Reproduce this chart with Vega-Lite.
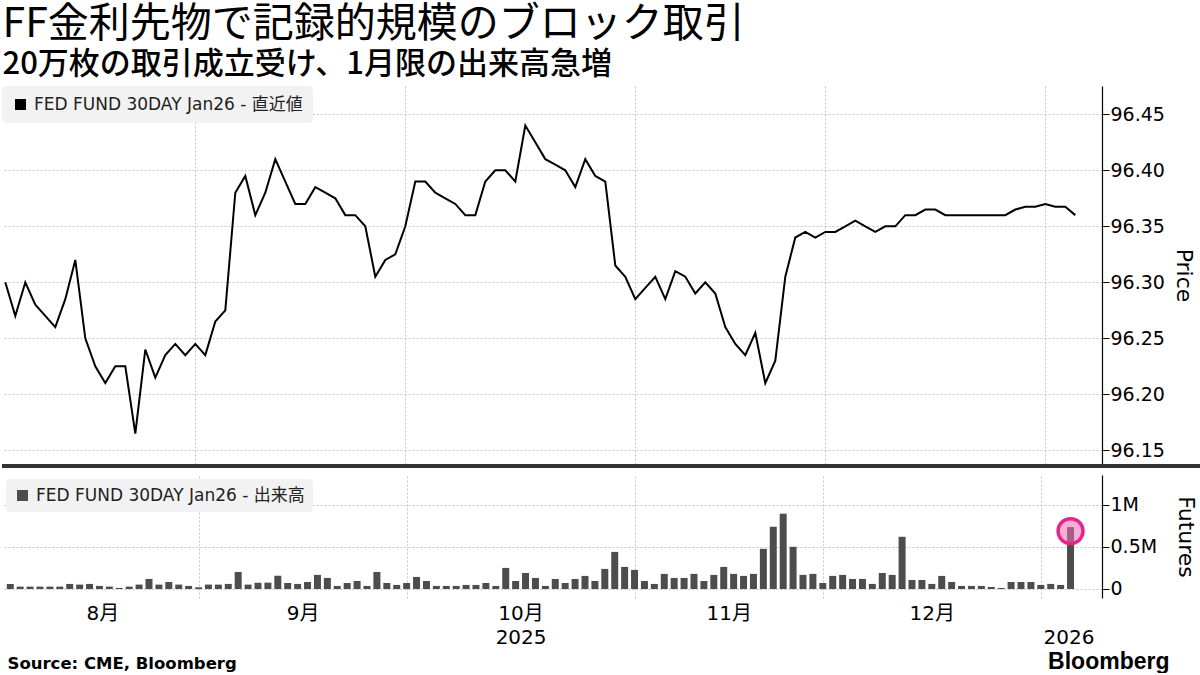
{
  "$schema": "https://vega.github.io/schema/vega-lite/v6.json",
  "padding": {"left": 0, "top": 4, "right": 0, "bottom": 0},
  "background": "white",
  "title": {
    "text": "FF金利先物で記録的規模のブロック取引",
    "subtitle": "20万枚の取引成立受け、1月限の出来高急増",
    "anchor": "start",
    "font": "Noto Sans CJK JP",
    "fontSize": 41,
    "fontWeight": "normal",
    "color": "#000",
    "subtitleFont": "Noto Sans CJK JP",
    "subtitleFontSize": 31,
    "subtitleFontWeight": 500,
    "subtitleColor": "#000",
    "subtitlePadding": 4,
    "offset": 5,
    "dx": 2
  },
  "datasets": {
    "d": [
      {"date": "2025-08-05", "i": 1, "p": 96.300, "v": 60000},
      {"date": "2025-08-06", "i": 2, "p": 96.270, "v": 28000},
      {"date": "2025-08-07", "i": 3, "p": 96.300, "v": 28000},
      {"date": "2025-08-08", "i": 4, "p": 96.280, "v": 28000},
      {"date": "2025-08-11", "i": 5, "p": 96.270, "v": 28000},
      {"date": "2025-08-12", "i": 6, "p": 96.260, "v": 28000},
      {"date": "2025-08-13", "i": 7, "p": 96.285, "v": 60000},
      {"date": "2025-08-14", "i": 8, "p": 96.320, "v": 52000},
      {"date": "2025-08-15", "i": 9, "p": 96.250, "v": 60000},
      {"date": "2025-08-18", "i": 10, "p": 96.225, "v": 36000},
      {"date": "2025-08-19", "i": 11, "p": 96.210, "v": 28000},
      {"date": "2025-08-20", "i": 12, "p": 96.225, "v": 12000},
      {"date": "2025-08-21", "i": 13, "p": 96.225, "v": 28000},
      {"date": "2025-08-22", "i": 14, "p": 96.165, "v": 52000},
      {"date": "2025-08-25", "i": 15, "p": 96.240, "v": 119000},
      {"date": "2025-08-26", "i": 16, "p": 96.215, "v": 52000},
      {"date": "2025-08-27", "i": 17, "p": 96.235, "v": 83000},
      {"date": "2025-08-28", "i": 18, "p": 96.245, "v": 52000},
      {"date": "2025-08-29", "i": 19, "p": 96.235, "v": 36000},
      {"date": "2025-09-02", "i": 20, "p": 96.245, "v": 20000},
      {"date": "2025-09-03", "i": 21, "p": 96.235, "v": 52000},
      {"date": "2025-09-04", "i": 22, "p": 96.265, "v": 52000},
      {"date": "2025-09-05", "i": 23, "p": 96.275, "v": 60000},
      {"date": "2025-09-08", "i": 24, "p": 96.380, "v": 202000},
      {"date": "2025-09-09", "i": 25, "p": 96.395, "v": 52000},
      {"date": "2025-09-10", "i": 26, "p": 96.360, "v": 75000},
      {"date": "2025-09-11", "i": 27, "p": 96.380, "v": 75000},
      {"date": "2025-09-12", "i": 28, "p": 96.410, "v": 157000},
      {"date": "2025-09-15", "i": 29, "p": 96.390, "v": 71000},
      {"date": "2025-09-16", "i": 30, "p": 96.370, "v": 60000},
      {"date": "2025-09-17", "i": 31, "p": 96.370, "v": 83000},
      {"date": "2025-09-18", "i": 32, "p": 96.385, "v": 167000},
      {"date": "2025-09-19", "i": 33, "p": 96.380, "v": 131000},
      {"date": "2025-09-22", "i": 34, "p": 96.375, "v": 36000},
      {"date": "2025-09-23", "i": 35, "p": 96.360, "v": 71000},
      {"date": "2025-09-24", "i": 36, "p": 96.360, "v": 95000},
      {"date": "2025-09-25", "i": 37, "p": 96.350, "v": 36000},
      {"date": "2025-09-26", "i": 38, "p": 96.305, "v": 202000},
      {"date": "2025-09-29", "i": 39, "p": 96.320, "v": 71000},
      {"date": "2025-09-30", "i": 40, "p": 96.325, "v": 48000},
      {"date": "2025-10-01", "i": 41, "p": 96.350, "v": 71000},
      {"date": "2025-10-02", "i": 42, "p": 96.390, "v": 143000},
      {"date": "2025-10-03", "i": 43, "p": 96.390, "v": 95000},
      {"date": "2025-10-06", "i": 44, "p": 96.380, "v": 36000},
      {"date": "2025-10-07", "i": 45, "p": 96.375, "v": 36000},
      {"date": "2025-10-08", "i": 46, "p": 96.370, "v": 36000},
      {"date": "2025-10-09", "i": 47, "p": 96.360, "v": 48000},
      {"date": "2025-10-10", "i": 48, "p": 96.360, "v": 48000},
      {"date": "2025-10-13", "i": 49, "p": 96.390, "v": 71000},
      {"date": "2025-10-14", "i": 50, "p": 96.400, "v": 36000},
      {"date": "2025-10-15", "i": 51, "p": 96.400, "v": 250000},
      {"date": "2025-10-16", "i": 52, "p": 96.390, "v": 95000},
      {"date": "2025-10-17", "i": 53, "p": 96.440, "v": 190000},
      {"date": "2025-10-20", "i": 54, "p": 96.425, "v": 131000},
      {"date": "2025-10-21", "i": 55, "p": 96.410, "v": 36000},
      {"date": "2025-10-22", "i": 56, "p": 96.405, "v": 119000},
      {"date": "2025-10-23", "i": 57, "p": 96.400, "v": 71000},
      {"date": "2025-10-24", "i": 58, "p": 96.385, "v": 119000},
      {"date": "2025-10-27", "i": 59, "p": 96.410, "v": 155000},
      {"date": "2025-10-28", "i": 60, "p": 96.395, "v": 95000},
      {"date": "2025-10-29", "i": 61, "p": 96.390, "v": 238000},
      {"date": "2025-10-30", "i": 62, "p": 96.315, "v": 440000},
      {"date": "2025-10-31", "i": 63, "p": 96.305, "v": 262000},
      {"date": "2025-11-03", "i": 64, "p": 96.285, "v": 226000},
      {"date": "2025-11-04", "i": 65, "p": 96.295, "v": 95000},
      {"date": "2025-11-05", "i": 66, "p": 96.305, "v": 60000},
      {"date": "2025-11-06", "i": 67, "p": 96.285, "v": 179000},
      {"date": "2025-11-07", "i": 68, "p": 96.310, "v": 131000},
      {"date": "2025-11-10", "i": 69, "p": 96.305, "v": 131000},
      {"date": "2025-11-11", "i": 70, "p": 96.290, "v": 179000},
      {"date": "2025-11-12", "i": 71, "p": 96.300, "v": 95000},
      {"date": "2025-11-13", "i": 72, "p": 96.290, "v": 167000},
      {"date": "2025-11-14", "i": 73, "p": 96.260, "v": 262000},
      {"date": "2025-11-17", "i": 74, "p": 96.245, "v": 179000},
      {"date": "2025-11-18", "i": 75, "p": 96.235, "v": 155000},
      {"date": "2025-11-19", "i": 76, "p": 96.255, "v": 179000},
      {"date": "2025-11-20", "i": 77, "p": 96.210, "v": 476000},
      {"date": "2025-11-21", "i": 78, "p": 96.230, "v": 738000},
      {"date": "2025-11-24", "i": 79, "p": 96.305, "v": 893000},
      {"date": "2025-11-25", "i": 80, "p": 96.340, "v": 500000},
      {"date": "2025-11-26", "i": 81, "p": 96.345, "v": 167000},
      {"date": "2025-11-28", "i": 82, "p": 96.340, "v": 179000},
      {"date": "2025-12-01", "i": 83, "p": 96.345, "v": 71000},
      {"date": "2025-12-02", "i": 84, "p": 96.345, "v": 155000},
      {"date": "2025-12-03", "i": 85, "p": 96.350, "v": 167000},
      {"date": "2025-12-04", "i": 86, "p": 96.355, "v": 119000},
      {"date": "2025-12-05", "i": 87, "p": 96.350, "v": 119000},
      {"date": "2025-12-08", "i": 88, "p": 96.345, "v": 60000},
      {"date": "2025-12-09", "i": 89, "p": 96.350, "v": 190000},
      {"date": "2025-12-10", "i": 90, "p": 96.350, "v": 167000},
      {"date": "2025-12-11", "i": 91, "p": 96.360, "v": 619000},
      {"date": "2025-12-12", "i": 92, "p": 96.360, "v": 107000},
      {"date": "2025-12-15", "i": 93, "p": 96.365, "v": 107000},
      {"date": "2025-12-16", "i": 94, "p": 96.365, "v": 60000},
      {"date": "2025-12-17", "i": 95, "p": 96.360, "v": 155000},
      {"date": "2025-12-18", "i": 96, "p": 96.360, "v": 83000},
      {"date": "2025-12-19", "i": 97, "p": 96.360, "v": 36000},
      {"date": "2025-12-22", "i": 98, "p": 96.360, "v": 36000},
      {"date": "2025-12-23", "i": 99, "p": 96.360, "v": 36000},
      {"date": "2025-12-24", "i": 100, "p": 96.360, "v": 24000},
      {"date": "2025-12-26", "i": 101, "p": 96.360, "v": 12000},
      {"date": "2025-12-29", "i": 102, "p": 96.365, "v": 83000},
      {"date": "2025-12-30", "i": 103, "p": 96.3675, "v": 83000},
      {"date": "2025-12-31", "i": 104, "p": 96.3675, "v": 83000},
      {"date": "2026-01-02", "i": 105, "p": 96.370, "v": 48000},
      {"date": "2026-01-05", "i": 106, "p": 96.3675, "v": 60000},
      {"date": "2026-01-06", "i": 107, "p": 96.3675, "v": 48000},
      {"date": "2026-01-07", "i": 108, "p": 96.360, "v": 734000}
    ]
  },
  "spacing": 7,
  "resolve": {"scale": {"color": "independent", "x": "independent"}, "legend": {"color": "independent"}},
  "vconcat": [
    {
      "width": 1100,
      "height": 378,
      "data": {"name": "d"},
      "layer": [
        {
          "mark": {"type": "line", "color": "#000", "strokeWidth": 2},
          "encoding": {
            "x": {
              "field": "i", "type": "quantitative",
              "scale": {"domain": [0.67, 110.67], "nice": false, "zero": false},
              "axis": {"values": [20, 41, 64, 83, 105], "grid": true, "labels": false, "ticks": false, "domain": false, "title": null}
            },
            "y": {
              "field": "p", "type": "quantitative",
              "scale": {"domain": [96.1378, 96.4753], "nice": false, "zero": false},
              "axis": {
                "orient": "right",
                "values": [96.15, 96.175, 96.2, 96.225, 96.25, 96.275, 96.3, 96.325, 96.35, 96.375, 96.4, 96.425, 96.45],
                "format": ".2f",
                "labelExpr": "round(datum.value*1000)%50==0 ? datum.label : ''",
                "grid": true,
                "gridOpacity": {"condition": {"test": "round(datum.value*1000)%50==0", "value": 1}, "value": 0},
                "tickSize": {"condition": {"test": "round(datum.value*1000)%50==0", "value": 7}, "value": 4},
                "labelPadding": 1,
                "title": "Price",
                "titlePadding": 7
              }
            },
            "color": {
              "datum": "FED FUND 30DAY Jan26 - 直近値", "type": "nominal",
              "scale": {"range": ["#000000"]},
              "legend": {"orient": "top-left", "offset": 0, "title": null, "symbolType": "square", "symbolFillColor": "#000", "symbolStrokeColor": "#000", "symbolStrokeWidth": 0, "symbolSize": 121, "padding": 10, "fillColor": "#f2f2f2", "cornerRadius": 4, "labelFontSize": 17, "labelOffset": 5, "labelColor": "#222", "labelFont": "DejaVu Sans, Noto Sans CJK JP", "labelLimit": 400}
            }
          }
        },
        {
          "mark": {"type": "rule", "color": "#333333", "strokeWidth": 3, "yOffset": 2},
          "encoding": {
            "x": {"datum": 0.67, "type": "quantitative"},
            "x2": {"datum": 120.67},
            "y": {"datum": 96.1378, "type": "quantitative"}
          }
        }
      ]
    },
    {
      "width": 1100,
      "height": 123,
      "data": {"name": "d"},
      "resolve": {"axis": {"x": "independent"}},
      "layer": [
        {
          "mark": {"type": "bar", "width": 7},
          "encoding": {
            "x": {
              "field": "i", "type": "quantitative",
              "scale": {"domain": [0.67, 110.67], "nice": false, "zero": false},
              "axis": {
                "values": [10.3, 30.5, 52.5, 73.5, 94, 107.8],
                "labelExpr": "datum.value<20 ? '8月' : datum.value<41 ? '9月' : datum.value<64 ? ['10月','2025'] : datum.value<83 ? '11月' : datum.value<105 ? '12月' : ['','2026']",
                "grid": false, "ticks": false, "domain": false,
                "labelFontSize": 20, "labelPadding": 5, "labelLineHeight": 24, "labelFlush": false, "labelOverlap": false,
                "labelFont": "DejaVu Sans, Noto Sans CJK JP",
                "title": "Source: CME, Bloomberg",
                "titleX": 5, "titleY": 70, "titleAlign": "left", "titleBaseline": "alphabetic", "titleAngle": 0,
                "titleFont": "DejaVu Sans", "titleFontSize": 16.5, "titleFontWeight": "bold", "titleColor": "#000"
              }
            },
            "y": {
              "field": "v", "type": "quantitative",
              "scale": {"domain": [-107000, 1352000], "nice": false},
              "axis": {
                "orient": "right",
                "values": [0, 250000, 500000, 750000, 1000000, 1250000],
                "labelExpr": "datum.value==0 ? '0' : datum.value==500000 ? '0.5M' : datum.value==1000000 ? '1M' : ''",
                "grid": true,
                "gridOpacity": {"condition": {"test": "datum.value%500000==0", "value": 1}, "value": 0},
                "tickSize": {"condition": {"test": "datum.value%500000==0", "value": 7}, "value": 4},
                "labelPadding": 1,
                "title": "Futures",
                "titlePadding": 17
              }
            },
            "color": {
              "datum": "FED FUND 30DAY Jan26 - 出来高", "type": "nominal",
              "scale": {"range": ["#4d4d4d"]},
              "legend": {"orient": "top-left", "offset": 4, "title": null, "symbolType": "square", "symbolSize": 121, "symbolStrokeWidth": 0, "padding": 8, "fillColor": "#f2f2f2", "cornerRadius": 4, "labelFontSize": 17, "labelOffset": 5, "labelColor": "#222", "labelFont": "DejaVu Sans, Noto Sans CJK JP", "labelLimit": 400}
            }
          }
        },
        {
          "transform": [{"filter": "datum.i == 108"}],
          "mark": {"type": "point", "shape": "circle", "filled": true, "size": 620, "fill": "#f06eb4", "fillOpacity": 0.55, "stroke": "#e6248a", "strokeWidth": 3.5, "strokeOpacity": 1, "yOffset": 4},
          "encoding": {
            "x": {
              "field": "i", "type": "quantitative",
              "axis": {
                "orient": "top", "values": [20, 41, 64, 83, 105], "grid": true, "labels": false, "ticks": false, "domain": false,
                "title": "Bloomberg", "titleX": 1167, "titleY": 193, "titleAlign": "right", "titleBaseline": "alphabetic", "titleAngle": 0,
                "titleFont": "Liberation Sans", "titleFontSize": 23, "titleFontWeight": "bold", "titleColor": "#000"
              }
            },
            "y": {"field": "v", "type": "quantitative"}
          }
        }
      ]
    }
  ],
  "config": {
    "view": {"stroke": null},
    "axis": {
      "labelFont": "DejaVu Sans",
      "labelFontSize": 19,
      "labelColor": "#000",
      "domainColor": "#000",
      "domainWidth": 1.2,
      "tickColor": "#000",
      "gridColor": "#c4c4c4",
      "gridDash": [2, 2],
      "gridWidth": 1,
      "titleFont": "DejaVu Sans",
      "titleFontSize": 22,
      "titleFontWeight": "normal",
      "titleColor": "#000"
    }
  }
}
